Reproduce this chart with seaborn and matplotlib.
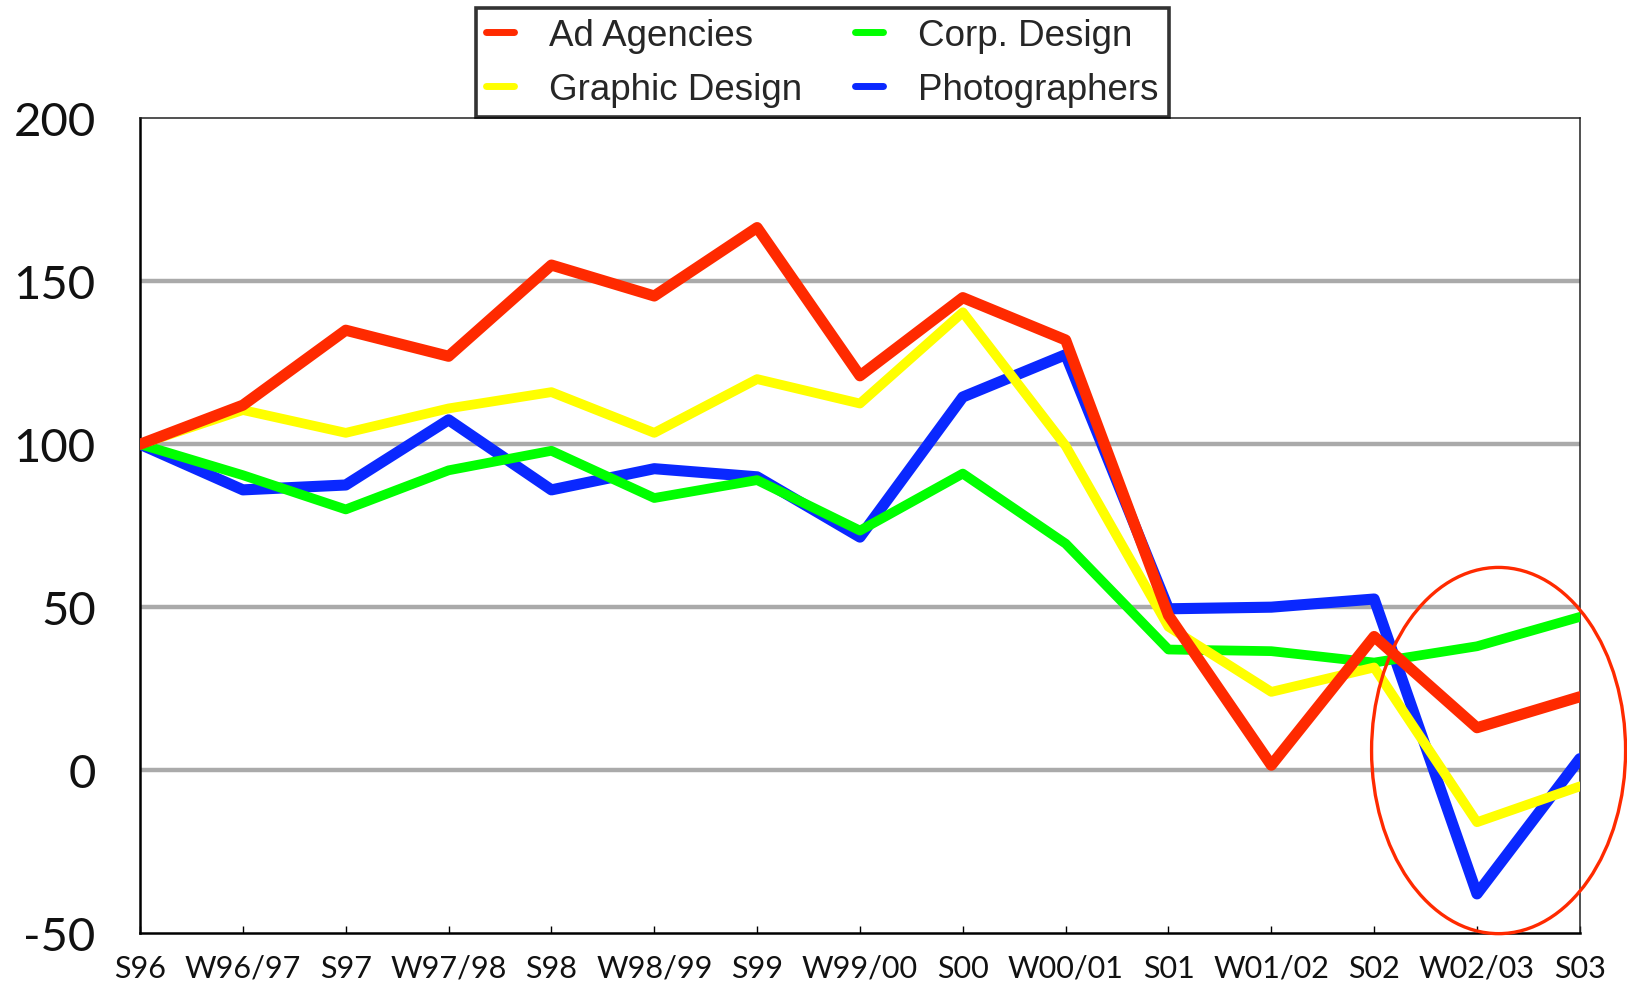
import matplotlib
matplotlib.use("Agg")
import matplotlib.pyplot as plt
from matplotlib.patches import Ellipse
from matplotlib.lines import Line2D
import seaborn as sns
import pandas as pd

periods = ["S96", "W96/97", "S97", "W97/98", "S98", "W98/99", "S99", "W99/00",
           "S00", "W00/01", "S01", "W01/02", "S02", "W02/03", "S03"]

ad_agencies = [100, 112, 135, 127, 155, 145.5, 166.5, 121, 145, 132, 47.5, 1.5, 41, 13, 22.5]
graphic_design = [100, 110.5, 103.5, 111, 116, 103.5, 120, 112.5, 140.5, 99.5, 44, 24, 31.5, -16, -5]
corp_design = [100, 90.5, 80, 92, 98, 83.5, 89, 73.5, 91, 69.5, 37, 36.5, 33, 38, 47]
photographers = [100, 86, 87.5, 107.5, 86, 92.5, 90, 71.5, 114.5, 127.5, 49.5, 50, 52.5, -38, 3.5]

series_names = ["Ad Agencies", "Graphic Design", "Corp. Design", "Photographers"]
colors = {"Ad Agencies": "#ff2a00", "Graphic Design": "#ffff00",
          "Corp. Design": "#00ff00", "Photographers": "#0a28ff"}

yticks = [-50, 0, 50, 100, 150, 200]

sns.set_theme(style="white")
plt.rcParams["font.family"] = ["Lato", "DejaVu Sans"]

fig = plt.figure(figsize=(16.27, 9.87), dpi=100)
ax = fig.add_axes([0.0861, 0.0537, 0.971 - 0.0861, 0.879 - 0.0537])

x = list(range(len(periods)))
data = {"Ad Agencies": ad_agencies, "Graphic Design": graphic_design,
        "Corp. Design": corp_design, "Photographers": photographers}

# gridlines
for yv in [0, 50, 100, 150]:
    ax.axhline(yv, color="#aaaaaa", lw=3.2, zorder=1)

draw_order = ["Photographers", "Corp. Design", "Graphic Design", "Ad Agencies"]
for i, name in enumerate(draw_order):
    df = pd.DataFrame({"x": x, "y": data[name]})
    sns.lineplot(data=df, x="x", y="y", ax=ax, color=colors[name],
                 linewidth=8.0 if name in ("Ad Agencies", "Photographers") else 7.0,
                 zorder=3 + i, legend=False)

ax.set_xlim(0, 14)
ax.set_ylim(-50, 200)
ax.set_xticks(x)
ax.set_xticklabels(periods, fontsize=22, color="#111111")
ax.set_yticks(yticks)
ax.set_yticklabels([str(v) for v in yticks], fontsize=34, color="#111111")
ax.set_xlabel("")
ax.set_ylabel("")
ax.tick_params(axis="x", direction="in", length=5, width=1, color="black", pad=15, bottom=True)
ax.tick_params(axis="y", length=0, pad=32)

for side in ["left", "bottom"]:
    ax.spines[side].set_color("black")
    ax.spines[side].set_linewidth(1.8)
for side in ["top", "right"]:
    ax.spines[side].set_color("#222222")
    ax.spines[side].set_linewidth(1.1)

# highlight ellipse
ell = Ellipse((13.21, 6.0), width=2.47, height=112.4, fill=False,
              edgecolor="#ff2a00", lw=2.4, clip_on=False, zorder=10)
ax.add_patch(ell)

leg_handles = [Line2D([0], [0], color=colors[n], lw=5) for n in series_names]
leg = fig.legend(leg_handles, series_names, ncol=2, loc="upper left",
                 bbox_to_anchor=(476 / 1627, 1 - 9 / 987), borderaxespad=0,
                 frameon=True, fancybox=False, edgecolor="black",
                 prop={"family": ["Liberation Sans", "DejaVu Sans"], "size": 26.5},
                 handlelength=0.75, handletextpad=0.95, columnspacing=1.45,
                 labelspacing=0.5, borderpad=0.28)
leg.get_frame().set_linewidth(2.6)

fig.savefig("out.png", dpi=100)
